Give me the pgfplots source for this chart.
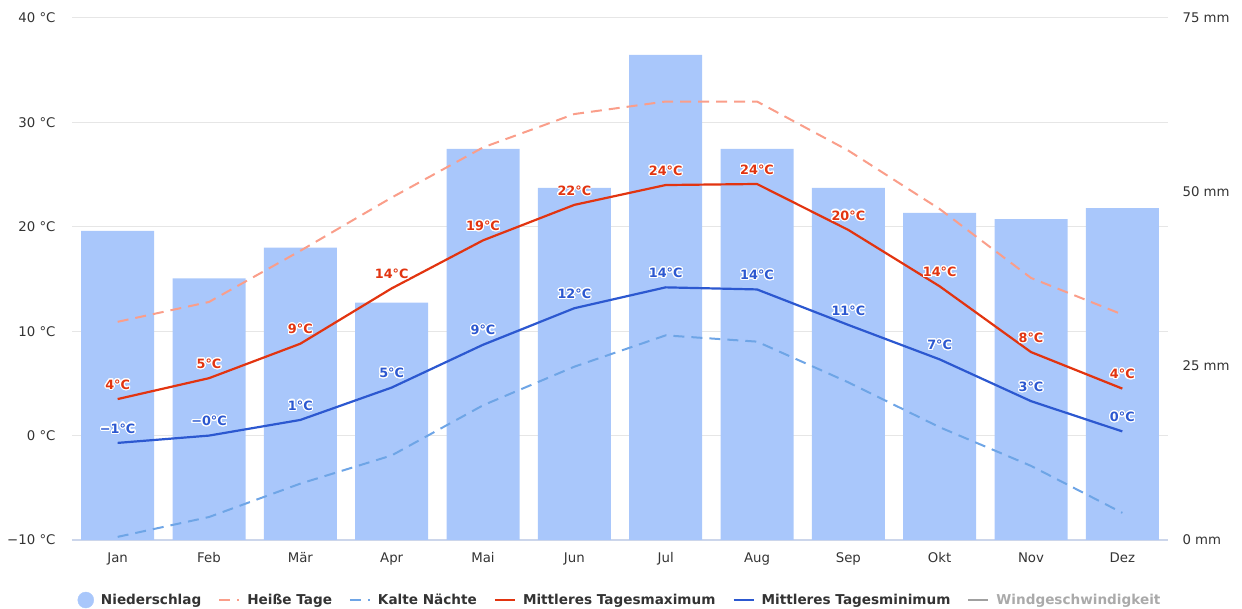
\documentclass[border=0pt]{standalone}
\usepackage{fontspec}
\setmainfont{DejaVu Sans}
\usepackage{pgfplots}
\pgfplotsset{compat=1.18}
\usepackage{pgfplotstable}
\usepackage{contour}
\contourlength{1.1pt}
\contournumber{24}

\definecolor{barblue}{RGB}{169,199,251}
\definecolor{maxred}{RGB}{226,52,16}
\definecolor{minblue}{RGB}{44,88,208}
\definecolor{hotc}{RGB}{250,158,138}
\definecolor{coldc}{RGB}{110,165,230}
\definecolor{gridc}{RGB}{230,230,230}
\definecolor{axc}{RGB}{204,214,235}
\definecolor{txt}{RGB}{51,51,51}
\definecolor{windtxt}{RGB}{170,170,170}
\definecolor{windline}{RGB}{160,160,160}

\pgfplotstableread{
x prec
0 44.4
1 37.6
2 42.0
3 34.1
4 56.2
5 50.6
6 69.7
7 56.2
8 50.6
9 47.0
10 46.1
11 47.7
}\precip

\pgfplotstableread{
x tmax lmax tmin lmin hot cold
0 3.5 4 -0.7 −1 10.9 -9.7
1 5.5 5 0.0 −0 12.8 -7.8
2 8.8 9 1.5 1 17.7 -4.6
3 14.1 14 4.6 5 22.8 -1.9
4 18.7 19 8.7 9 27.6 2.9
5 22.1 22 12.2 12 30.8 6.6
6 24.0 24 14.2 14 32.0 9.6
7 24.1 24 14.0 14 32.0 9.0
8 19.7 20 10.6 11 27.3 5.1
9 14.3 14 7.3 7 21.7 0.8
10 8.0 8 3.3 3 15.1 -2.9
11 4.5 4 0.4 0 11.6 -7.4
}\temps

\pgfplotsset{
  base/.style={
    width=1096pt, height=522pt, scale only axis,
    xmin=-0.5, xmax=11.5,
    at={(0,0)}, anchor=south west,
    major tick length=0pt,
    tick label style={font=\fontsize{13.3}{15}\selectfont, text=txt},
  },
}

\begin{document}
\begin{tikzpicture}
% grid, left labels, x labels
\begin{axis}[base,
  ymin=-10, ymax=40,
  ytick={-10,0,10,20,30,40},
  yticklabels={−10 °C,0 °C,10 °C,20 °C,30 °C,40 °C},
  xtick={0,...,11},
  xticklabels={Jan,Feb,Mär,Apr,Mai,Jun,Jul,Aug,Sep,Okt,Nov,Dez},
  ymajorgrids, grid style={gridc, line width=1pt},
  axis x line*=bottom, axis y line*=left,
  x axis line style={draw=axc, line width=1.2pt},
  y axis line style={draw=none},
  yticklabel style={xshift=-13pt},
  xticklabel style={yshift=-9pt},
]
\addplot[draw=none] coordinates {(0,0)};
\end{axis}
% bars
\begin{axis}[base,
  ymin=0, ymax=75,
  ytick={0,25,50,75},
  yticklabels={0 mm,25 mm,50 mm,75 mm},
  axis y line*=right, axis x line=none,
  y axis line style={draw=none},
  yticklabel style={anchor=west, xshift=11pt},
  ybar, bar width=73pt,
]
\addplot[fill=barblue, draw=none] table[x=x, y=prec] {\precip};
\end{axis}
% lines
\begin{axis}[base,
  ymin=-10, ymax=40,
  hide axis,
  legend columns=-1,
  legend style={draw=none, fill=none, at={(0.5,-0.115)}, anchor=center,
    font=\bfseries\fontsize{13.6}{15}\selectfont, text=txt,
    /tikz/every odd column/.append style={column sep=5pt},
    /tikz/every even column/.append style={column sep=15pt}},
  legend image code/.code={\draw[#1] (0pt,0pt) -- (20pt,0pt);},
  nodes near coords style={font=\bfseries\fontsize{12.8}{14}\selectfont, anchor=center, yshift=14pt, inner sep=0pt},
]
\coordinate (SW) at (rel axis cs:0,0);
\coordinate (NE) at (rel axis cs:1,1);
\addlegendimage{only marks, mark=*, mark size=8pt, color=barblue,
  legend image code/.code={\fill[barblue] (12pt,0pt) circle (8pt);}}
\addlegendentry{Niederschlag}
\addplot[hotc, line width=2pt, dash pattern=on 11pt off 7pt] table[x=x, y=hot] {\temps};
\addlegendentry{Heiße Tage}
\addplot[coldc, line width=2pt, dash pattern=on 11pt off 7pt] table[x=x, y=cold] {\temps};
\addlegendentry{Kalte Nächte}
\addplot[maxred, line width=2.2pt, point meta=explicit symbolic,
  nodes near coords={\contour{white}{\textcolor{maxred}{\pgfplotspointmeta°C}}}]
  table[x=x, y=tmax, meta=lmax] {\temps};
\addlegendentry{Mittleres Tagesmaximum}
\addplot[minblue, line width=2.2pt, point meta=explicit symbolic,
  nodes near coords={\contour{white}{\textcolor{minblue}{\pgfplotspointmeta°C}}}]
  table[x=x, y=tmin, meta=lmin] {\temps};
\addlegendentry{Mittleres Tagesminimum}
\addlegendimage{windline, line width=2pt}
\addlegendentry{\textcolor{windtxt}{Windgeschwindigkeit}}
\end{axis}
\pgfresetboundingbox
\path ([shift={(-72pt,-69pt)}]SW) rectangle ([shift={(74pt,18pt)}]NE);
\end{tikzpicture}
\end{document}
